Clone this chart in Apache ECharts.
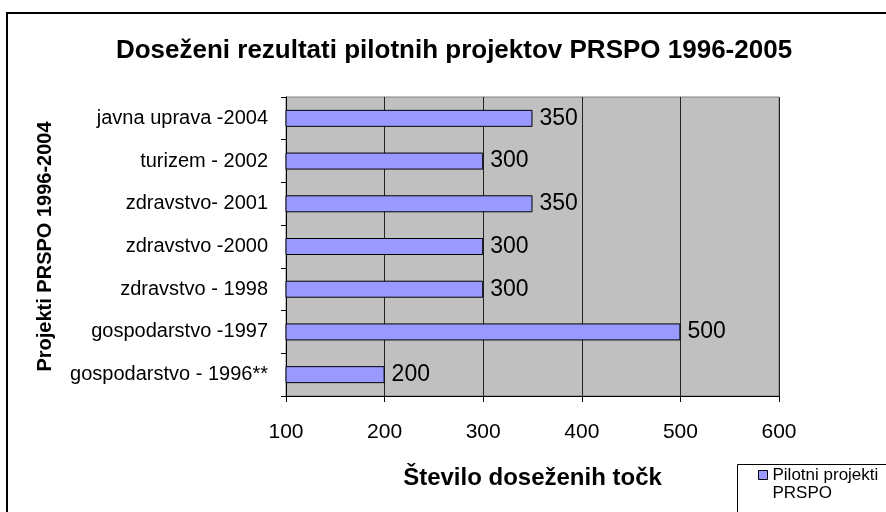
<!DOCTYPE html>
<html>
<head>
<meta charset="utf-8">
<script src="https://cdn.jsdelivr.net/npm/echarts@6/dist/echarts.min.js"></script>
<style>html,body{margin:0;padding:0;background:#fff}#c{width:886px;height:512px}</style>
</head>
<body>
<div id="c"></div>
<script>
var titleText = 'Doseženi rezultati pilotnih projektov PRSPO 1996-2005';
var categories = ['javna uprava -2004', 'turizem - 2002', 'zdravstvo- 2001', 'zdravstvo -2000', 'zdravstvo - 1998', 'gospodarstvo -1997', 'gospodarstvo - 1996**'];
var values = [350, 300, 350, 300, 300, 500, 200];
var xTicks = [100, 200, 300, 400, 500, 600];
var seriesName = 'Pilotni projekti PRSPO';
var xName = 'Število doseženih točk';
var yName = 'Projekti PRSPO 1996-2004';

var FONT = '"Liberation Sans", Arial, sans-serif';
var chart = echarts.init(document.getElementById('c'), null, {renderer: 'canvas'});
chart.setOption({
  animation: false,
  backgroundColor: '#fff',
  textStyle: {fontFamily: FONT, color: '#000'},
  title: {
    text: titleText,
    left: 449, top: 33, textAlign: 'center',
    textStyle: {fontFamily: FONT, fontSize: 26, fontWeight: 'bold', color: '#000'}
  },
  graphic: [
    {type: 'rect', silent: true, z: -1, shape: {x: 7, y: 13, width: 1000, height: 1000}, style: {fill: 'none', stroke: '#000', lineWidth: 2}},
    {type: 'rect', silent: true, z: -1, shape: {x: 737.5, y: 464.5, width: 300, height: 100}, style: {fill: '#fff', stroke: '#000', lineWidth: 1}}
  ],
  legend: {
    data: [seriesName],
    left: 758, top: 448, padding: 0,
    itemWidth: 9, itemHeight: 9, itemGap: 0,
    icon: 'rect',
    itemStyle: {borderColor: '#000', borderWidth: 1},
    formatter: function () { return '{s| }\n{a|Pilotni projekti}\n{a|PRSPO}'; },
    textStyle: {
      fontFamily: FONT, fontSize: 17, color: '#000',
      rich: {
        s: {fontFamily: FONT, fontSize: 17, lineHeight: 18, height: 18},
        a: {fontFamily: FONT, fontSize: 17, lineHeight: 18, height: 18, color: '#000'}
      }
    }
  },
  grid: {
    left: 286, right: 107, top: 97, bottom: 116,
    show: true, backgroundColor: '#C0C0C0', borderColor: '#808080', borderWidth: 1
  },
  xAxis: {
    type: 'value', min: xTicks[0], max: xTicks[xTicks.length - 1], interval: 100,
    name: xName, nameLocation: 'middle', nameGap: 70,
    nameTextStyle: {fontFamily: FONT, fontSize: 24, fontWeight: 'bold', color: '#000'},
    axisLine: {show: true, lineStyle: {color: '#000', width: 1}},
    axisTick: {show: true, length: 6, lineStyle: {color: '#000'}},
    axisLabel: {fontFamily: FONT, fontSize: 21, color: '#000', margin: 26},
    splitLine: {show: true, lineStyle: {color: '#222', width: 1}}
  },
  yAxis: {
    type: 'category', data: categories, inverse: true,
    name: yName, nameLocation: 'middle', nameGap: 231, nameRotate: 90,
    nameTextStyle: {fontFamily: FONT, fontSize: 20, fontWeight: 'bold', color: '#000'},
    axisLine: {show: true, lineStyle: {color: '#000', width: 1}},
    axisTick: {show: true, length: 5, inside: false, lineStyle: {color: '#000'}},
    axisLabel: {fontFamily: FONT, fontSize: 20, color: '#000', margin: 18},
    splitLine: {show: false}
  },
  series: [{
    name: seriesName, type: 'bar', data: values, barWidth: 17,
    itemStyle: {color: '#9999FF', borderColor: '#000', borderWidth: 1},
    label: {show: true, position: 'right', distance: 7, fontFamily: FONT, fontSize: 23, color: '#000'}
  }]
});
</script>
</body>
</html>
